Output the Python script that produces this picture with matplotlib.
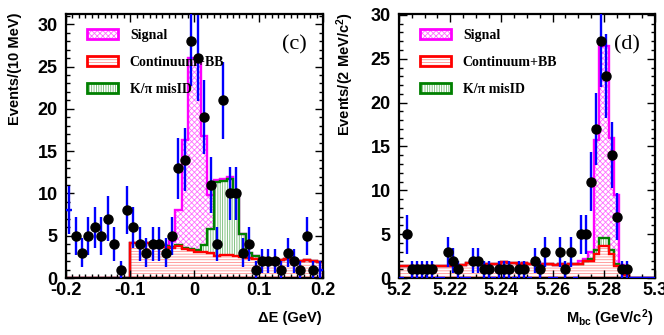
#!/usr/bin/env python3

import numpy as np
import matplotlib
matplotlib.use('Agg')
import matplotlib.pyplot as plt
from matplotlib.patches import Patch
from matplotlib.legend_handler import HandlerTuple
from matplotlib.ticker import MultipleLocator, FuncFormatter

plt.rcParams['font.family'] = ['Liberation Sans', 'DejaVu Sans']
plt.rcParams['font.weight'] = 'bold'
plt.rcParams['axes.unicode_minus'] = False
plt.rcParams['mathtext.fontset'] = 'custom'
plt.rcParams['mathtext.bf'] = 'Liberation Sans:bold'
plt.rcParams['mathtext.rm'] = 'Liberation Sans:bold'
plt.rcParams['mathtext.default'] = 'bf'
plt.rcParams['hatch.linewidth'] = 0.6

# ---- panel (c): Delta E, 10 MeV bins from -0.2 to 0.2
de_counts = [8, 5, 3, 5, 6, 5, 7, 4, 1, 8,
             6, 4, 3, 4, 4, 3, 5, 13, 14, 28,
             26, 19, 11, 4, 21, 10, 10, 3, 4, 1,
             2, 2, 2, 1, 3, 2, 1, 5, 1, 1]
de_cont = [0, 0, 0, 0, 0, 0, 0, 0, 0, 0,
           4.2, 4.2, 4.1, 4.0, 3.9, 3.7, 3.6, 3.8, 3.4, 3.3,
           3.1, 3.1, 3.0, 2.6, 2.7, 2.7, 2.6, 2.5, 2.4, 2.3,
           2.3, 2.2, 2.2, 2.1, 2.2, 2.1, 2.0, 2.1, 2.0, 1.9]
de_misid = [0, 0, 0, 0, 0, 0, 0, 0, 0, 0,
            0, 0, 0, 0, 0, 0.1, 0.1, 0.1, 0.1, 0.1,
            0.2, 0.85, 2.8, 8.8, 8.8, 9.0, 7.4, 2.7, 0.6, 0.3,
            0.1, 0, 0, 0, 0, 0, 0, 0, 0, 0]
de_signal = [0, 0, 0, 0, 0, 0, 0, 0, 0, 0,
             0, 0, 0, 0, 0, 0.1, 0.7, 4.2, 12.8, 22.6,
             22.7, 12.85, 4.0, 0.2, 0.2, 0.2, 0.1, 0, 0, 0,
             0, 0, 0, 0, 0, 0, 0, 0, 0, 0]

# ---- panel (d): Mbc, 2 MeV bins from 5.2 to 5.3
mbc_counts = [0, 5, 1, 1, 1, 1, 1, 0, 0, 3,
              2, 1, 0, 0, 2, 2, 1, 1, 0, 1,
              1, 1, 0, 1, 1, 0, 2, 1, 3, 0,
              0, 3, 1, 3, 0, 5, 5, 11, 17, 27,
              23, 14, 7, 1, 1, 0, 0, 0, 0, 0]
mbc_cont = [1.35, 1.35, 1.35, 1.35, 1.35, 1.35, 1.35, 1.35, 1.35, 1.35,
            1.35, 1.35, 1.5, 1.75, 1.75, 1.7, 1.6, 1.6, 1.55, 1.6,
            1.8, 1.75, 1.7, 1.65, 1.7, 1.6, 1.65, 1.6, 1.55, 1.6,
            1.5, 1.55, 1.5, 1.6, 1.55, 1.6, 2.0, 2.0, 2.75, 3.6,
            3.6, 2.75, 1.4, 0.8, 0.4, 0, 0, 0, 0, 0]
mbc_misid = [0] * 37 + [0.2, 0.5, 1.0, 1.0, 0.5, 0.2, 0.1] + [0] * 6
mbc_signal = [0] * 35 + [0.3, 0.2, 0.8, 12.45, 21.9, 21.9, 12.75, 7.9, 0.6, 0.4] + [0] * 5

LEG_LABELS = ['Signal', 'Continuum+BB', 'K/\u03c0 misID']

C_SIG, H_SIG = '#ff00ff', '#ff70ff'
C_CON, H_CON = '#ff0000', '#ff9090'
C_MIS, H_MIS = '#008000', '#70b870'
C_ERR = '#0000ff'


def draw_panel(ax, edges, counts, cont, misid, signal, ylim, tag):
    counts = np.asarray(counts, float)
    cont = np.asarray(cont, float)
    lvl2 = cont + np.asarray(misid, float)
    lvl3 = lvl2 + np.asarray(signal, float)
    centers = 0.5 * (edges[1:] + edges[:-1])
    binw = edges[1] - edges[0]

    # hatched fills
    ax.stairs(lvl3, edges, baseline=lvl2, fill=True, facecolor='none',
              edgecolor=H_SIG, hatch='xxxxxx', linewidth=0)
    ax.stairs(lvl2, edges, baseline=cont, fill=True, facecolor='none',
              edgecolor=H_MIS, hatch='|||||||', linewidth=0)
    ax.stairs(cont, edges, baseline=0, fill=True, facecolor='none',
              edgecolor=H_CON, hatch='------', linewidth=0)
    # outlines
    ax.stairs(lvl3, edges, baseline=None, color=C_SIG, linewidth=1.7)
    ax.stairs(lvl2, edges, baseline=None, color=C_MIS, linewidth=1.7)
    ax.stairs(cont, edges, baseline=0, color=C_CON, linewidth=1.7)

    # data points
    ax.errorbar(centers, counts, yerr=np.sqrt(counts), xerr=binw / 2,
                fmt='none', ecolor=C_ERR, elinewidth=1.7, capsize=0, zorder=4)
    inner = (counts > 0) & (centers > edges[0] + binw) & (centers < edges[-1] - binw)
    ax.plot(centers[inner], counts[inner], 'o', color='black',
            markersize=6.5, zorder=5)

    ax.set_xlim(edges[0], edges[-1])
    ax.set_ylim(*ylim)
    ax.yaxis.set_major_locator(MultipleLocator(5))
    ax.yaxis.set_minor_locator(MultipleLocator(1))
    ax.tick_params(which='both', direction='in', top=True, right=True,
                   labelsize=13, width=1)
    ax.tick_params(which='major', length=6)
    ax.tick_params(which='minor', length=3)
    ax.tick_params(axis='x', pad=3)
    ax.tick_params(axis='y', pad=6)
    for s in ax.spines.values():
        s.set_linewidth(1.6)
    ax.xaxis.set_major_formatter(FuncFormatter(lambda v, p: f'{v:g}'))
    ax.yaxis.set_major_formatter(FuncFormatter(lambda v, p: f'{v:g}'))

    handles = [(Patch(facecolor='none', edgecolor=H_SIG, hatch='xxxxxx', linewidth=0),
                Patch(facecolor='none', edgecolor=C_SIG, linewidth=2)),
               (Patch(facecolor='none', edgecolor=H_CON, hatch='------', linewidth=0),
                Patch(facecolor='none', edgecolor=C_CON, linewidth=2)),
               (Patch(facecolor='none', edgecolor=H_MIS, hatch='|||||||', linewidth=0),
                Patch(facecolor='none', edgecolor=C_MIS, linewidth=2))]
    ax.legend(handles, LEG_LABELS, handler_map={tuple: HandlerTuple(ndivide=1, pad=0)},
              loc='upper left', bbox_to_anchor=(0.062, 0.965), frameon=False,
              prop={'family': 'Liberation Serif', 'weight': 'bold', 'size': 10},
              handlelength=2.2, handleheight=0.75, handletextpad=0.85,
              labelspacing=1.0, borderaxespad=0)
    ax.text(0.89, 0.885, tag, transform=ax.transAxes, ha='center', va='center',
            fontsize=16, family='Liberation Serif', weight='normal')


fig = plt.figure(figsize=(6.64, 3.35), dpi=100)
ax1 = fig.add_axes([0.0994, 0.170, 0.387, 0.788])
ax2 = fig.add_axes([0.601, 0.170, 0.3855, 0.788])

de_edges = np.linspace(-0.2, 0.2, len(de_counts) + 1)
mbc_edges = np.linspace(5.2, 5.3, len(mbc_counts) + 1)

draw_panel(ax1, de_edges, de_counts, de_cont, de_misid, de_signal, (0, 31.2), '(c)')
ax1.xaxis.set_major_locator(MultipleLocator(0.1))
ax1.xaxis.set_minor_locator(MultipleLocator(0.01))

draw_panel(ax2, mbc_edges, mbc_counts, mbc_cont, mbc_misid, mbc_signal, (0, 30.1), '(d)')
ax2.xaxis.set_major_locator(MultipleLocator(0.02))
ax2.xaxis.set_minor_locator(MultipleLocator(0.005))

fig.text(0.022, 0.962, 'Events/(10 MeV)', rotation=90, ha='center', va='top',
         fontsize=10.5, weight='bold')
fig.text(0.520, 0.962, 'Events/(2 MeV/c$^{2}$)', rotation=90, ha='center', va='top',
         fontsize=10.5, weight='bold')
fig.text(0.485, 0.05, '\u0394E (GeV)', ha='right', va='center',
         fontsize=10.5, weight='bold')
fig.text(0.984, 0.05, 'M$_{bc}$ (GeV/c$^{2}$)', ha='right', va='center',
         fontsize=10.5, weight='bold')

fig.savefig('out.png', dpi=100)
